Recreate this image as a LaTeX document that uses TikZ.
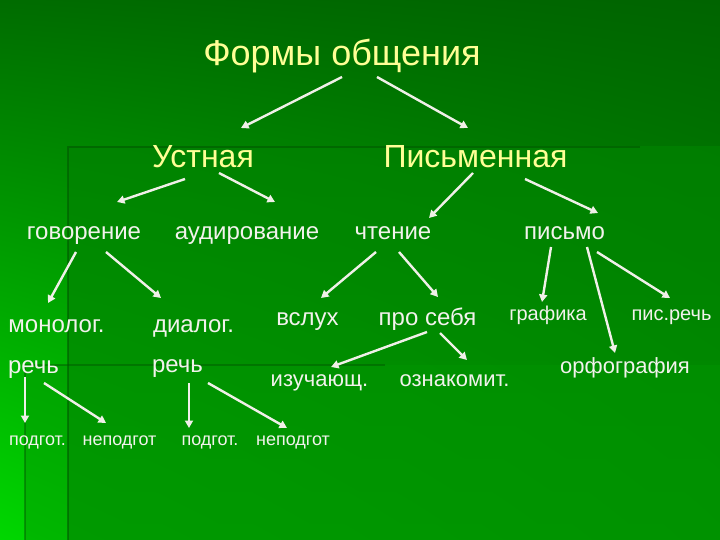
\documentclass[tikz,border=0pt]{standalone}
\usepackage{fontspec}
\setmainfont{Liberation Sans}
\usetikzlibrary{arrows.meta,shadings}
\definecolor{bgUL}{RGB}{0,108,0}
\definecolor{bgUR}{RGB}{0,100,0}
\definecolor{bgLL}{RGB}{0,215,0}
\definecolor{bgLR}{RGB}{0,150,0}
\definecolor{panTop}{RGB}{0,130,0}
\definecolor{panBot}{RGB}{0,142,0}
\definecolor{panB}{RGB}{0,150,0}
\definecolor{edgedark}{RGB}{0,85,0}
\definecolor{txty}{RGB}{255,255,150}
\definecolor{txtw}{RGB}{242,242,236}
\definecolor{arrw}{RGB}{240,240,232}
\tikzset{
  lbl/.style={text=txtw, inner sep=0pt, anchor=base},
  ttl/.style={lbl, text=txty, font=\fontsize{36}{40}\selectfont},
  lvtwo/.style={lbl, text=txty, font=\fontsize{32}{36}\selectfont},
  lvbig/.style={lbl, font=\fontsize{24}{28}\selectfont},
  lvmid/.style={lbl, font=\fontsize{22}{26}\selectfont},
  lvsml/.style={lbl, font=\fontsize{20}{24}\selectfont},
  lvtiny/.style={lbl, font=\fontsize{18}{22}\selectfont},
  arr/.style={draw=arrw, line width=2.4pt, -{Triangle[length=7.5pt,width=8pt]}},
}
\begin{document}
\begin{tikzpicture}[x=1pt,y=1pt]
\useasboundingbox (0,0) rectangle (720,-540);
\clip (0,0) rectangle (720,-540);
% background
\shade[upper left=bgUL, upper right=bgUR, lower left=bgLL, lower right=bgLR] (0,0) rectangle (720,-540);
\shade[top color=panTop, bottom color=panBot, opacity=0.75] (68,-147) rectangle (720,-540);
\fill[panB, opacity=0.45] (25,-365) rectangle (720,-540);
\draw[edgedark, line width=2.5pt, opacity=0.55] (68,-540) -- (68,-147) -- (640,-147);
\draw[edgedark, line width=2pt, opacity=0.45] (25,-540) -- (25,-365) -- (385,-365);
% nodes
\node[ttl] (title) at (342,-66) {Формы общения};
\node[lvtwo] (ustn) at (203,-168) {Устная};
\node[lvtwo] (pism) at (475.5,-168) {Письменная};
\node[lvbig] (gov) at (84,-240) {говорение};
\node[lvbig] (aud) at (247,-240) {аудирование};
\node[lvbig] (cht) at (393,-240) {чтение};
\node[lvbig] (pis) at (564.5,-240) {письмо};
\node[lvbig] (mon) at (56.5,-332) {монолог.};
\node[lvbig] (dia) at (193.5,-332) {диалог.};
\node[lvbig] (vsl) at (307.5,-325) {вслух};
\node[lvbig] (pro) at (427.5,-325) {про себя};
\node[lvsml] (gra) at (548,-320) {графика};
\node[lvsml] (psr) at (671.5,-320) {пис.речь};
\node[lvbig] (rechA) at (33.5,-373) {речь};
\node[lvbig] (rechB) at (177.5,-372) {речь};
\node[lvmid] (izu) at (319.5,-386) {изучающ.};
\node[lvmid] (ozn) at (454.5,-386) {ознакомит.};
\node[lvmid] (orf) at (625,-373) {орфография};
\node[lvtiny] (podA) at (37.5,-445) {подгот.};
\node[lvtiny] (nepA) at (119.5,-445) {неподгот};
\node[lvtiny] (podB) at (210,-445) {подгот.};
\node[lvtiny] (nepB) at (293,-445) {неподгот};
% connectors
\draw[arr] ([shift={(0,-11)}]title.base) -- ([shift={(38,40)}]ustn.base);
\draw[arr] ([shift={(35,-11)}]title.base) -- ([shift={(-7.5,40)}]pism.base);
\draw[arr] ([shift={(-18,-11)}]ustn.base) -- ([shift={(33,38)}]gov.base);
\draw[arr] ([shift={(16,-5)}]ustn.base) -- ([shift={(28,38)}]aud.base);
\draw[arr] ([shift={(-2.5,-5)}]pism.base) -- ([shift={(36,22)}]cht.base);
\draw[arr] ([shift={(49.5,-11)}]pism.base) -- ([shift={(33.5,27)}]pis.base);
\draw[arr] ([shift={(-8,-12)}]gov.base) -- ([shift={(-8.5,29)}]mon.base);
\draw[arr] ([shift={(22,-12)}]gov.base) -- ([shift={(-32.5,34)}]dia.base);
\draw[arr] ([shift={(-17,-12)}]cht.base) -- ([shift={(13.5,27)}]vsl.base);
\draw[arr] ([shift={(6,-12)}]cht.base) -- ([shift={(10.5,28)}]pro.base);
\draw[arr] ([shift={(-13.5,-7)}]pis.base) -- ([shift={(-6,18)}]gra.base);
\draw[arr] ([shift={(22.5,-7)}]pis.base) -- ([shift={(-10,20)}]orf.base);
\draw[arr] ([shift={(32.5,-12)}]pis.base) -- ([shift={(-1.5,22)}]psr.base);
\draw[arr] ([shift={(-0.5,-7)}]pro.base) -- ([shift={(11.5,19)}]izu.base);
\draw[arr] ([shift={(12.5,-8)}]pro.base) -- ([shift={(12.5,26)}]ozn.base);
\draw[arr] ([shift={(-8.5,-4)}]rechA.base) -- ([shift={(-12.5,22)}]podA.base);
\draw[arr] ([shift={(10.5,-10)}]rechA.base) -- ([shift={(-13.5,22)}]nepA.base);
\draw[arr] ([shift={(11.5,-11)}]rechB.base) -- ([shift={(-21,17)}]podB.base);
\draw[arr] ([shift={(30.5,-11)}]rechB.base) -- ([shift={(-6,17)}]nepB.base);
\end{tikzpicture}
\end{document}
